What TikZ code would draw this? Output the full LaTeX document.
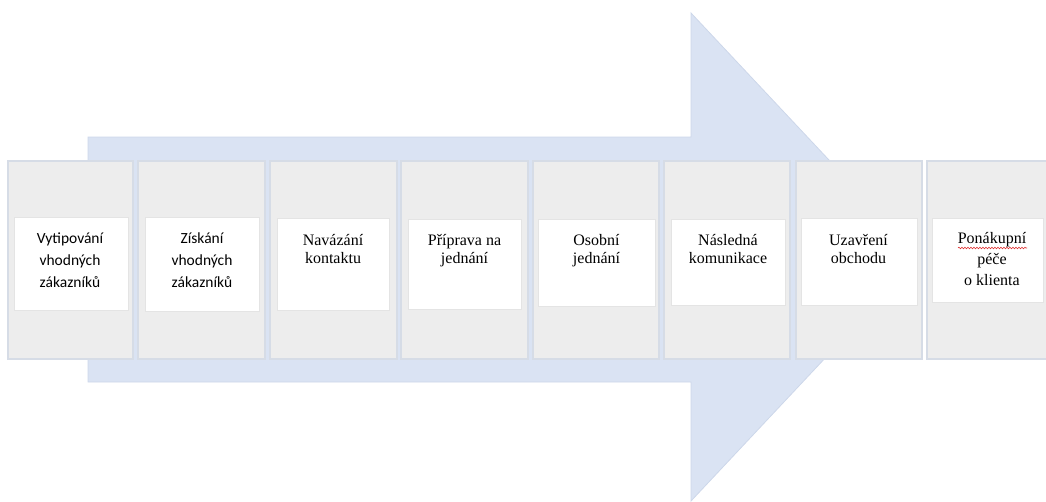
\documentclass[tikz,border=0pt]{standalone}
\usepackage{fontspec}
\setmainfont{Liberation Serif}
\newfontfamily\calibri{Carlito}
\usetikzlibrary{decorations.pathmorphing}
\definecolor{arrowblue}{HTML}{DAE3F3}
\definecolor{arrowedge}{HTML}{CDD7EA}
\definecolor{panelfill}{HTML}{EDEDED}
\definecolor{paneledge}{HTML}{D6DCE6}
\definecolor{boxedge}{HTML}{E4E4E4}
\definecolor{spellred}{HTML}{E03030}
\begin{document}
\begin{tikzpicture}[x=1pt,y=-1pt,
  bigarrow/.style={fill=arrowblue,draw=arrowedge,line width=0.8pt},
  panel/.style={fill=panelfill,draw=paneledge,line width=1.6pt},
  wbox/.style={fill=white,draw=boxedge,line width=0.8pt},
  lab/.style={font=\fontsize{16}{18.5}\selectfont,align=center,anchor=base,inner sep=0pt},
  cal/.style={font=\calibri\fontsize{15.5}{22}\selectfont,align=center,anchor=base,inner sep=0pt},
  spell/.style={draw=spellred,line width=0.6pt,decorate,decoration={snake,amplitude=0.8pt,segment length=3pt}}]
\useasboundingbox (0,0) rectangle (1046,501);
\begin{scope}
\clip (0,0) rectangle (1046,501);
% big arrow
\draw[bigarrow] (88,137) -- (691,137) -- (691,13) -- (920,257) -- (691,501) -- (691,382) -- (88,382) -- cycle;
% grey panels
\foreach \i/\xa/\xb in {1/8/133,2/138/265,3/270/397,4/401/528,5/533/659,6/664/790,7/796/922,8/927/1060}{
  \draw[panel] (\xa,161) rectangle (\xb,359);
}
% white boxes
\foreach \i/\xa/\xb/\ya/\yb in {1/14/128/217/310,2/145/259/217/311,3/277/389/218/310,4/408/521/219/309,5/538/655/219/306,6/671/785/219/305,7/801/917/218/305,8/932/1043/218/302}{
  \draw[wbox] (\xa,\ya) rectangle (\xb,\yb);
}
\end{scope}
% labels (anchor = baseline of last line)
\node[cal] (t1) at (70,287) {Vytipování\\vhodných\\zákazníků};
\node[cal] (t2) at (202,287) {Získání\\vhodných\\zákazníků};
\node[lab] (t3) at (333,263.5) {Navázání\\kontaktu};
\node[lab] (t4) at (464.5,263.5) {Příprava na\\jednání};
\node[lab] (t5) at (596.5,263.5) {Osobní\\jednání};
\node[lab] (t6) at (728,263.5) {Následná\\komunikace};
\node[lab] (t7) at (858.5,263.5) {Uzavření\\obchodu};
\node[lab,font=\fontsize{16}{21}\selectfont] (t8) at (992,285) {Ponákupní\\péče\\o klienta};
\coordinate (w1) at (958,248);
\coordinate (w2) at (1027,248);
\draw[spell] (w1) -- (w2);
\end{tikzpicture}
\end{document}
